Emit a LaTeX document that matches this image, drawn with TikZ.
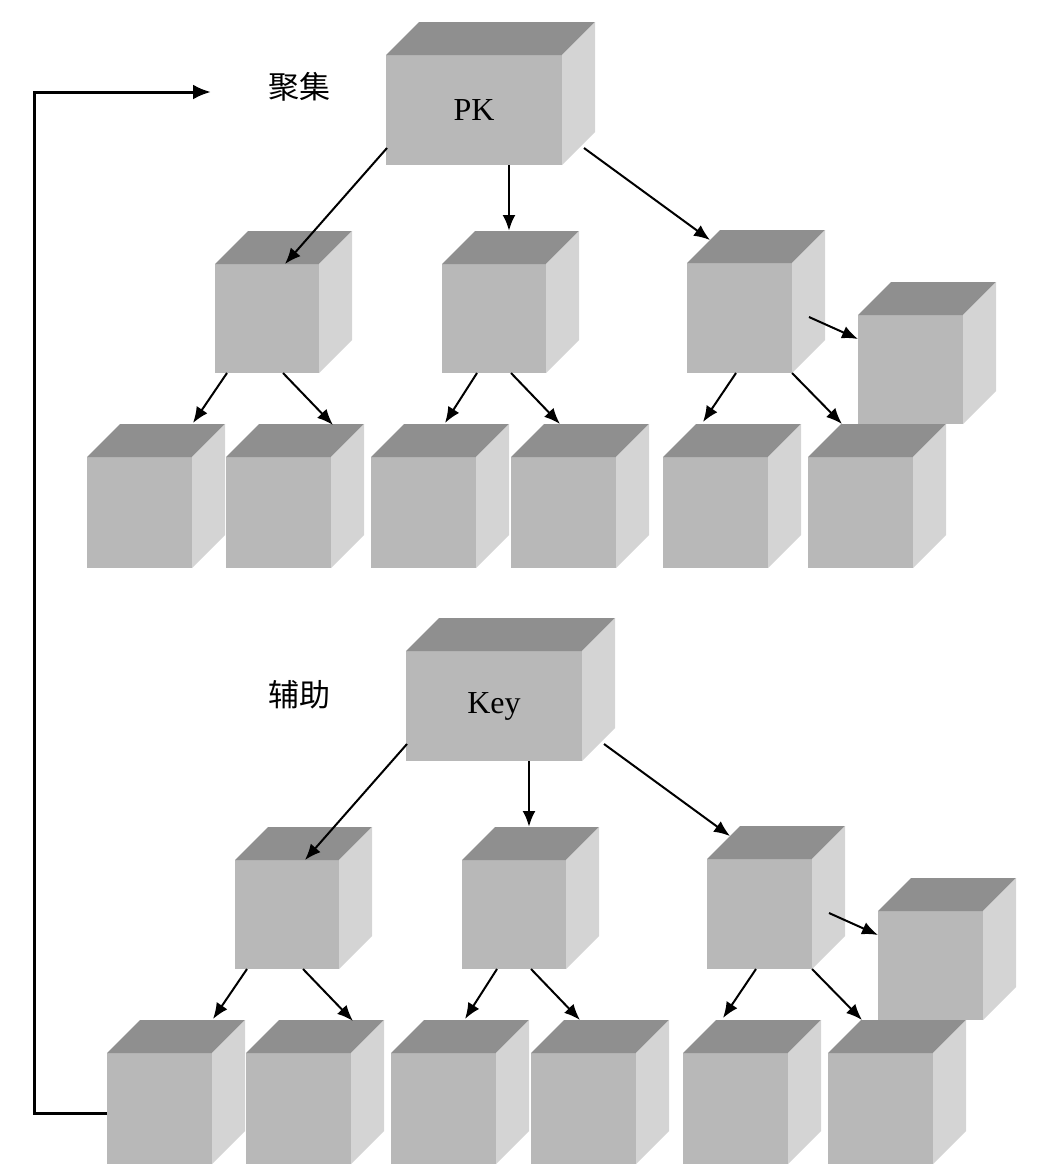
\documentclass[tikz,border=0pt]{standalone}
\usepackage{fontspec}
\setmainfont{Liberation Serif}
\newfontfamily\cjk{Noto Sans CJK SC}
\usepackage{tikz}
\usetikzlibrary{arrows.meta,calc}
\definecolor{GrisFrente}{RGB}{184,184,184}
\definecolor{GrisTapa}{RGB}{143,143,143}
\definecolor{GrisLado}{RGB}{212,212,212}
% cubo: nombre, x, y (esquina sup. izq. de la cara frontal), ancho, alto, texto
\newcommand{\cubo}[6]{%
  \node[frente,minimum width=#4pt,minimum height=#5pt,anchor=north west] (#1) at (#2,#3) {#6};
  \fill[GrisTapa] (#1.north west) -- ++(33,-33) -- ++(#4,0) -- (#1.north east) -- cycle;
  \fill[GrisLado] (#1.north east) -- ++(33,-33) -- ++(0,#5) -- (#1.south east) -- cycle;
}

\begin{document}
\begin{tikzpicture}[x=1pt,y=-1pt,>={Latex[length=16pt,width=13pt]},
  frente/.style={fill=GrisFrente,inner sep=0pt,outer sep=0pt,font=\fontsize{32}{36}\selectfont},
  flecha/.style={->,line width=2pt},
  etiqueta/.style={font=\cjk\fontsize{31}{34}\selectfont}]
  \useasboundingbox (0,0) rectangle (1038,1171);
  % dos arboles, el de abajo desplazado
  \foreach \t/\dx/\dy/\raiz in {a/0/0/PK,b/20/596/Key}{
    \begin{scope}[shift={(\dx,\dy)}]
      \cubo{\t r}{386}{55}{176}{110}{\raiz}
      \cubo{\t n1}{215}{264}{104}{109}{}
      \cubo{\t n2}{442}{264}{104}{109}{}
      \cubo{\t n3}{687}{263}{105}{110}{}
      \cubo{\t x}{858}{315}{105}{109}{}
      % hojas
      \foreach \x [count=\i] in {87,226,371,511,663,808}
        {\cubo{\t h\i}{\x}{457}{105}{111}{}}
      % flechas
      \draw[flecha] ($(\t r.south west)+(1,-17)$) -- ($(\t n1.north)+(18,0)$);
      \draw[flecha,line width=2.8pt] ($(\t r.south)+(35,0)$) -- ($(\t n2.north)+(15,-33)$);
      \draw[flecha] ($(\t r.south east)+(22,-17)$) -- ($(\t n3.north west)+(23,-23)$);
      \draw[flecha] ($(\t n3.north east)+(17,54)$) -- ($(\t x.north west)+(0,24)$);
      \draw[flecha] ($(\t n1.south west)+(12,0)$) -- ($(\t h1.north east)+(1,-34)$);
      \draw[flecha] ($(\t n1.south)+(16,0)$) -- ($(\t h2.north east)+(2,-32)$);
      \draw[flecha] ($(\t n2.south west)+(35,0)$) -- ($(\t h3.north east)+(-31,-34)$);
      \draw[flecha] ($(\t n2.south)+(17,0)$) -- ($(\t h4.north east)+(-56,-33)$);
      \draw[flecha] ($(\t n3.south west)+(49,0)$) -- ($(\t h5.north west)+(40,-35)$);
      \draw[flecha] (\t n3.south east) -- ($(\t h6.north west)+(34,-33)$);
    \end{scope}
  }
  \node[etiqueta] (juji) at (299,87) {聚集};
  \node[etiqueta] (fuzhu) at (299,695) {辅助};
  % retorno desde la primera hoja de abajo
  \coordinate (retorno) at (211,92);
  \draw[line width=3pt,-{Latex[length=18pt,width=15pt]}] ($(bh1.west)+(0,5)$) -- ++(-73,0) |- (retorno);
\end{tikzpicture}
\end{document}
